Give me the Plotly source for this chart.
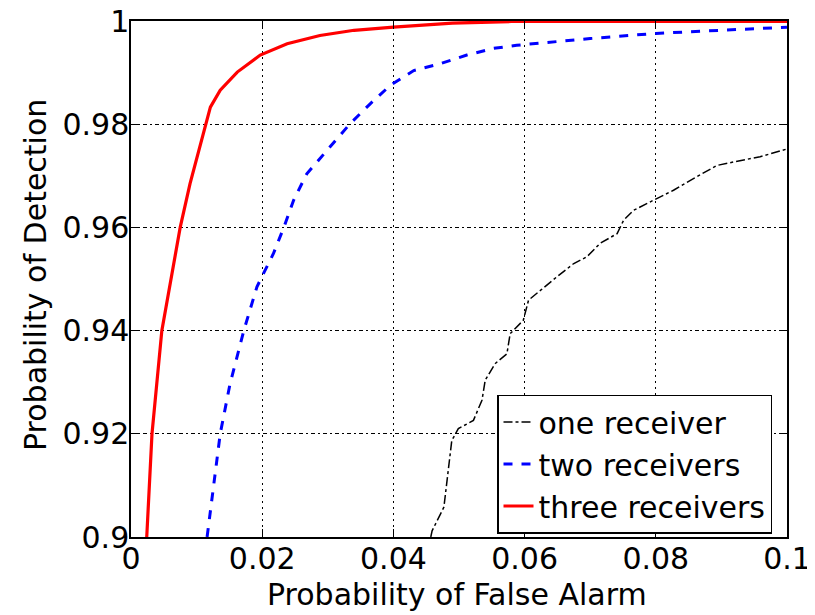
import plotly.graph_objects as go

# one receiver
one_x = [0.0457, 0.0459, 0.0477, 0.0484, 0.0489, 0.0499, 0.0522, 0.0535, 0.0540, 0.0555, 0.0573,
         0.0578, 0.0598, 0.0606, 0.0624, 0.0649, 0.0675, 0.0695, 0.0715, 0.0741, 0.0751, 0.0766,
         0.0797, 0.0827, 0.0858, 0.0893, 0.0919, 0.0959, 0.1000]
one_y = [0.9000, 0.9012, 0.9058, 0.9135, 0.9187, 0.9210, 0.9226, 0.9265, 0.9304, 0.9336, 0.9355,
         0.9394, 0.9420, 0.9459, 0.9478, 0.9504, 0.9530, 0.9543, 0.9569, 0.9588, 0.9614, 0.9633,
         0.9653, 0.9672, 0.9695, 0.9720, 0.9727, 0.9737, 0.9752]

# two receivers
two_x = [0.0116, 0.0126, 0.0136, 0.0151, 0.0172, 0.0192, 0.0217, 0.0233, 0.0248, 0.0268, 0.0299,
         0.0334, 0.0365, 0.0395, 0.0431, 0.0471, 0.0512, 0.0553, 0.0588, 0.0700, 0.0800, 0.0900, 0.1000]
two_y = [0.9000, 0.9097, 0.9200, 0.9297, 0.9400, 0.9485, 0.9549, 0.9600, 0.9653, 0.9704, 0.9750,
         0.9801, 0.9840, 0.9875, 0.9904, 0.9917, 0.9934, 0.9947, 0.9953, 0.9966, 0.9976, 0.9982, 0.9988]

# three receivers
three_x = [0.0024, 0.0032, 0.0047, 0.0060, 0.0075, 0.0090, 0.0108, 0.0115, 0.0121, 0.0136, 0.0162,
           0.0197, 0.0238, 0.0288, 0.0340, 0.0400, 0.0490, 0.0580, 0.1000]
three_y = [0.9000, 0.9200, 0.9400, 0.9497, 0.9600, 0.9685, 0.9769, 0.9800, 0.9833, 0.9866, 0.9901,
           0.9934, 0.9956, 0.9972, 0.9982, 0.9988, 0.9996, 0.9999, 0.9999]

x_ticks = [0, 0.02, 0.04, 0.06, 0.08, 0.1]
x_labels = ["0", "0.02", "0.04", "0.06", "0.08", "0.1"]
y_ticks = [0.9, 0.92, 0.94, 0.96, 0.98, 1.0]
y_labels = ["0.9", "0.92", "0.94", "0.96", "0.98", "1"]

x_title = "Probability of False Alarm"
y_title = "Probability of Detection"

FONT = "DejaVu Sans, Arial, sans-serif"
FS = 30

fig = go.Figure()
fig.add_trace(go.Scatter(x=one_x, y=one_y, mode="lines", name="one receiver",
                         line=dict(color="black", width=1.5, dash="dashdot")))
fig.add_trace(go.Scatter(x=two_x, y=two_y, mode="lines", name="two receivers",
                         line=dict(color="#0000ff", width=3, dash="dash")))
fig.add_trace(go.Scatter(x=three_x, y=three_y, mode="lines", name="three receivers",
                         line=dict(color="#ff0000", width=3.2)))

axis_common = dict(
    showline=True, linecolor="black", linewidth=1.5, mirror="allticks",
    ticks="inside", ticklen=8, tickcolor="black",
    showgrid=True, gridcolor="black", gridwidth=1,
    zeroline=False, automargin=False, ticklabeloverflow="allow",
    tickfont=dict(family=FONT, size=FS, color="black"),
)

fig.update_xaxes(range=[0, 0.1], tickvals=x_ticks, ticktext=x_labels, griddash="2px,4px",
                 ticklabelstandoff=-6, **axis_common)
fig.update_yaxes(range=[0.9, 1.0], tickvals=y_ticks, ticktext=y_labels,
                 griddash="4px,3px,2px,3px", ticklabelstandoff=-6, **axis_common)

# plot area: 656 x 516 px; page has an 8px body offset
PW, PH = 656, 516
fig.add_annotation(text=x_title, xref="paper", yref="paper",
                   x=(457 - 131) / PW, y=(537 - 594) / PH,
                   xanchor="center", yanchor="middle", showarrow=False,
                   font=dict(family=FONT, size=FS, color="black"))
fig.add_annotation(text=y_title, xref="paper", yref="paper",
                   x=(35 - 131) / PW, y=(537 - 275) / PH, textangle=-90,
                   xanchor="center", yanchor="middle", showarrow=False,
                   font=dict(family=FONT, size=FS, color="black"))

fig.update_layout(
    width=807, height=607,
    margin=dict(l=123, r=28, t=13, b=78),
    paper_bgcolor="white", plot_bgcolor="white",
    font=dict(family=FONT, size=FS, color="black"),
    legend=dict(x=(772 - 131) / PW, y=(537 - 464) / PH, xanchor="right", yanchor="middle",
                bgcolor="white", bordercolor="black", borderwidth=1.5,
                font=dict(family=FONT, size=FS, color="black"),
                tracegroupgap=0, itemwidth=30),
    showlegend=True,
)

fig.write_html("out.html")
